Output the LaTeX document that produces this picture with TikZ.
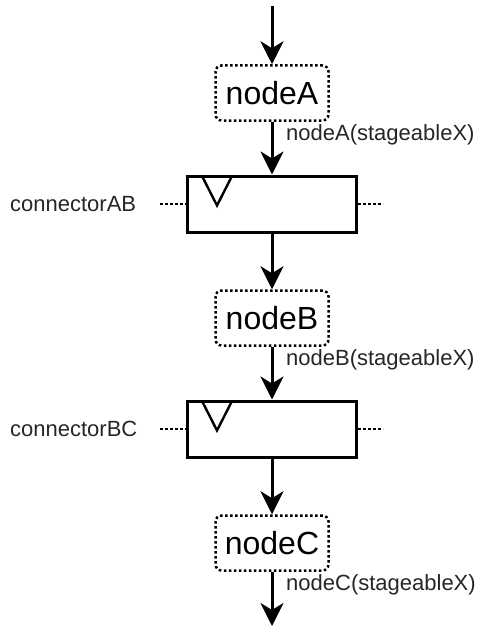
\documentclass[tikz,border=0pt]{standalone}
\usepackage{fontspec}
\setmainfont{Liberation Sans}
\usetikzlibrary{arrows.meta,calc}
\begin{document}
\begin{tikzpicture}[x=1pt,y=-1pt,
  arr/.style={line width=3pt,-{Stealth[length=23pt,width=23pt,inset=7pt]}},
  dotbox/.style={draw,line width=2.5pt,dash pattern=on 2.5pt off 2.5pt,rounded corners=6pt,
     minimum width=113pt,minimum height=55pt,inner sep=0pt,font=\fontsize{32}{38}\selectfont},
  regbox/.style={draw,line width=3pt,minimum width=169pt,minimum height=56pt,inner sep=0pt},
  tri/.style={line width=2.4pt,line join=miter},
  dotline/.style={line width=2.5pt,dash pattern=on 2.5pt off 2.5pt},
  lbl/.style={anchor=west,inner sep=0pt,text=black!85,font=\fontsize{22}{26}\selectfont}]
\useasboundingbox (0,0) rectangle (481,626);
\node[dotbox] (nA) at (272,93) {nodeA};
\node[regbox] (ab) at (272,204) {};
\node[dotbox] (nB) at (272,318) {nodeB};
\node[regbox] (bc) at (272,429) {};
\node[dotbox] (nC) at (272,543) {nodeC};
\coordinate (top) at (272,6);
\coordinate (bot) at (272,626);
% labels
\node[lbl] (lA) at (286,135) {nodeA(stageableX)};
\node[lbl] (lB) at (286,360) {nodeB(stageableX)};
\node[lbl] (lC) at (286,585) {nodeC(stageableX)};
\node[lbl] (cAB) at (10,204) {connectorAB};
\node[lbl] (cBC) at (10,429) {connectorBC};
% arrows
\draw[arr] (top) -- (nA.north);
\draw[arr] (nA.south) -- (ab.north);
\draw[arr] (ab.south) -- (nB.north);
\draw[arr] (nB.south) -- (bc.north);
\draw[arr] (bc.south) -- (nC.north);
\draw[arr] (nC.south) -- (bot);
% triangles
\draw[tri] ($(ab.north west)+(16,1.5)$) -- ($(ab.north west)+(31,31)$) -- ($(ab.north west)+(46,1.5)$);
\draw[tri] ($(bc.north west)+(16,1.5)$) -- ($(bc.north west)+(31,31)$) -- ($(bc.north west)+(46,1.5)$);
% dotted stubs
\coordinate (abL) at (160,204);
\coordinate (abR) at (383,204);
\coordinate (bcL) at (160,429);
\coordinate (bcR) at (383,429);
\draw[dotline] (abL) -- (ab.west);
\draw[dotline] (ab.east) -- (abR);
\draw[dotline] (bcL) -- (bc.west);
\draw[dotline] (bc.east) -- (bcR);
\end{tikzpicture}
\end{document}
